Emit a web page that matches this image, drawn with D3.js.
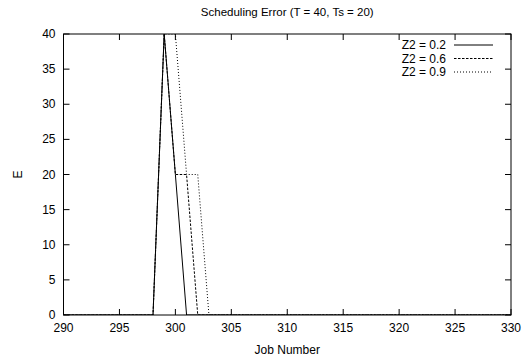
<!DOCTYPE html>
<html><head><meta charset="utf-8">
<script src="https://cdn.jsdelivr.net/npm/d3@7"></script>
<style>body{margin:0;background:#fff}svg{display:block}text{font-family:"Liberation Sans",Arial,sans-serif;fill:#000}</style>
</head><body><svg id="c" width="530" height="362"></svg>
<script>
const jobs = [290, 298, 299, 300, 301, 302, 303, 330];
const z02 = [0, 0, 40, 20, 0, 0, 0, 0];
const z06 = [0, 0, 40, 20, 20, 0, 0, 0];
const z09 = [0, 0, 40, 40, 20, 20, 0, 0];
const seriesNames = ["Z2 = 0.2", "Z2 = 0.6", "Z2 = 0.9"];
const xTicks = [290, 295, 300, 305, 310, 315, 320, 325, 330];
const yTicks = [0, 5, 10, 15, 20, 25, 30, 35, 40];

const svg = d3.select("#c");
const L = 63.5, R = 511, T = 34, B = 315;
const x = d3.scaleLinear().domain([290, 330]).range([L, R]);
const y = d3.scaleLinear().domain([0, 40]).range([B, T]);
const fs = 12;

svg.append("defs").append("clipPath").attr("id", "clip")
  .append("rect").attr("x", L).attr("y", T).attr("width", R - L).attr("height", B - T);

const tl = 6;
const ax = svg.append("g").attr("stroke", "#000").attr("stroke-width", 1);
xTicks.forEach(t => {
  ax.append("line").attr("x1", x(t)).attr("x2", x(t)).attr("y1", B).attr("y2", B - tl);
  ax.append("line").attr("x1", x(t)).attr("x2", x(t)).attr("y1", T).attr("y2", T + tl);
});
yTicks.forEach(t => {
  ax.append("line").attr("x1", L).attr("x2", L + tl).attr("y1", y(t)).attr("y2", y(t));
  ax.append("line").attr("x1", R).attr("x2", R - tl).attr("y1", y(t)).attr("y2", y(t));
});
svg.selectAll(".xl").data(xTicks).enter().append("text")
  .attr("x", d => x(d)).attr("y", B + 17).attr("text-anchor", "middle").attr("font-size", fs).text(d => d);
svg.selectAll(".yl").data(yTicks).enter().append("text")
  .attr("x", L - 8).attr("y", d => y(d) + 4).attr("text-anchor", "end").attr("font-size", fs).text(d => d);

const dashes = [null, "2.5,1.5", "1,2"];
const data = [z02, z06, z09];
const line = d3.line().x(d => x(d[0])).y(d => y(d[1]));
const g = svg.append("g").attr("clip-path", "url(#clip)");
data.forEach((vals, i) => {
  g.append("path").datum(jobs.map((j, k) => [j, vals[k]]))
    .attr("d", line).attr("fill", "none").attr("stroke", "#000").attr("stroke-width", 1)
    .attr("stroke-dasharray", dashes[i]);
});

svg.append("rect").attr("x", L).attr("y", T).attr("width", R - L).attr("height", B - T)
  .attr("fill", "none").attr("stroke", "#000").attr("stroke-width", 1);

seriesNames.forEach((n, i) => {
  const yy = 45 + i * 13.5;
  svg.append("text").attr("x", 446).attr("y", yy + 4).attr("text-anchor", "end").attr("font-size", fs).text(n);
  svg.append("line").attr("x1", 454).attr("x2", 493).attr("y1", yy).attr("y2", yy)
    .attr("stroke", "#000").attr("stroke-width", 1).attr("stroke-dasharray", dashes[i]);
});

svg.append("text").attr("x", (L + R) / 2).attr("y", 16).attr("text-anchor", "middle").attr("font-size", 11.5)
  .text("Scheduling Error (T = 40, Ts = 20)");
svg.append("text").attr("x", (L + R) / 2).attr("y", 354).attr("text-anchor", "middle").attr("font-size", fs)
  .text("Job Number");
svg.append("text").attr("transform", `translate(22,${(T + B) / 2}) rotate(-90)`).attr("text-anchor", "middle")
  .attr("font-size", fs).text("E");
</script></body></html>
